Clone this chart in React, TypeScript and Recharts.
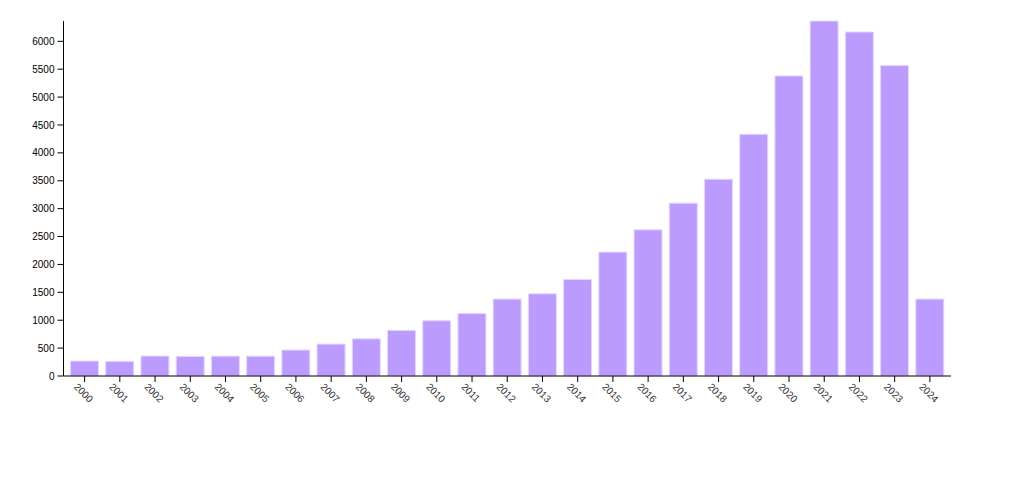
import { BarChart, Bar, XAxis, YAxis } from "recharts"

const years = [
  "2000", "2001", "2002", "2003", "2004", "2005", "2006", "2007", "2008",
  "2009", "2010", "2011", "2012", "2013", "2014", "2015", "2016", "2017",
  "2018", "2019", "2020", "2021", "2022", "2023", "2024",
]
const counts = [
  268, 262, 358, 352, 356, 356, 466, 572, 666,
  818, 991, 1122, 1379, 1474, 1731, 2221, 2620, 3099,
  3528, 4334, 5379, 6364, 6167, 5565, 1379,
]
const yTicks = [0, 500, 1000, 1500, 2000, 2500, 3000, 3500, 4000, 4500, 5000, 5500, 6000]

const data = years.map((year, i) => ({ year, count: counts[i] }))

const FONT = "'Liberation Sans', Arial, sans-serif"

// etiquetas giradas 45° como en d3
function YearTick(props: any) {
  const { x, y, payload } = props
  return (
    <g transform={`translate(${x},${y - 9})`}>
      <text
        transform="rotate(45)"
        x={0}
        y={9}
        dy="0.71em"
        textAnchor="start"
        fontSize={10}
        fontFamily={FONT}
        fill="#333"
      >
        {payload.value}
      </text>
    </g>
  )
}

export default function App() {
  return (
    <BarChart
      width={1008}
      height={480}
      data={data}
      margin={{ top: 13, right: 65, bottom: 0, left: 0 }}
      barCategoryGap="10%"
    >
      <XAxis
        dataKey="year"
        interval={0}
        height={112}
        padding={{ left: 3.5, right: 3.5 }}
        tickSize={6}
        tickMargin={3}
        tick={<YearTick />}
        axisLine={{ stroke: "#000" }}
        tickLine={{ stroke: "#000" }}
      />
      <YAxis
        width={55.5}
        domain={[0, "dataMax"]}
        ticks={yTicks}
        interval={0}
        tickSize={6}
        tickMargin={3}
        axisLine={{ stroke: "#000" }}
        tickLine={{ stroke: "#000" }}
        tick={{ fontSize: 10, fontFamily: FONT, fill: "#000" }}
      />
      <Bar
        dataKey="count"
        fill="#bc9bff"
        stroke="#e4d8ff"
        strokeWidth={1}
        isAnimationActive={false}
      />
    </BarChart>
  )
}
